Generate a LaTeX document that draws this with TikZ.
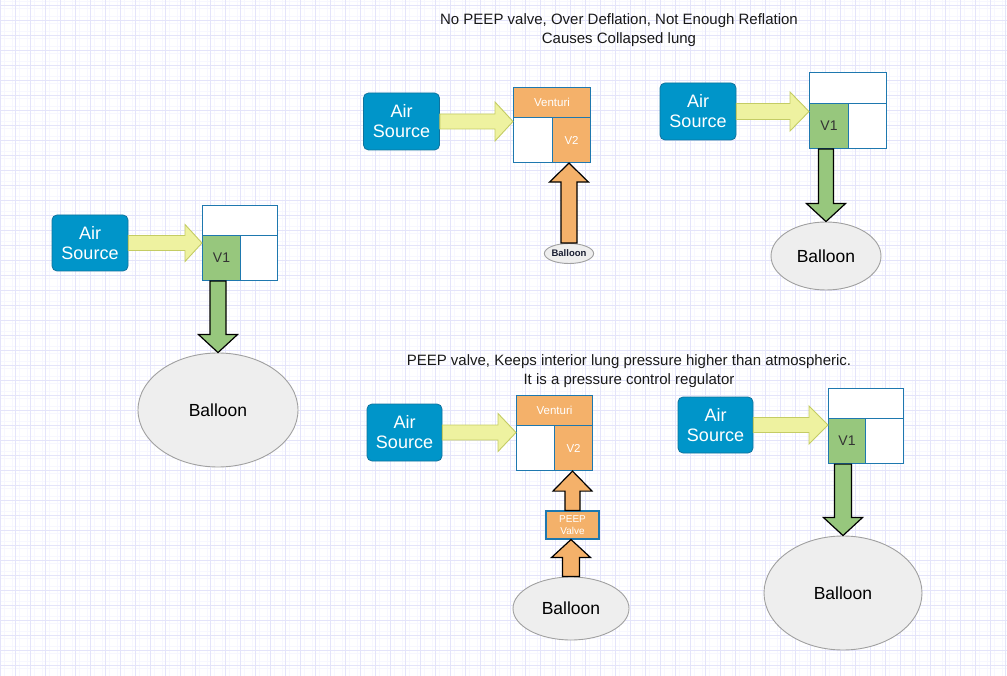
\documentclass[tikz,border=0pt]{standalone}
\usepackage{fontspec}
\setmainfont{Liberation Sans}
\usetikzlibrary{calc,shapes.geometric}
\definecolor{gridmaj}{RGB}{228,228,250}
\definecolor{gridmin}{RGB}{247,247,255}
\definecolor{airfill}{RGB}{0,149,201}
\definecolor{airline}{RGB}{16,115,158}
\definecolor{boxline}{RGB}{30,120,175}
\definecolor{vgreen}{RGB}{151,199,125}
\definecolor{vorange}{RGB}{244,177,106}
\definecolor{yfill}{RGB}{238,242,160}
\definecolor{yline}{RGB}{196,204,100}
\definecolor{balfill}{RGB}{238,238,238}
\definecolor{balline}{RGB}{160,160,160}
\definecolor{navy}{RGB}{25,30,50}
\newcommand\fs[2]{\fontsize{#1}{#2}\selectfont}
% horizontal block arrow: style, from node, to node, body half, head half, head length
\newcommand\hblk[6]{\draw[#1] let \p1=(#2.east), \p2=(#3.west) in
  (\x1,{\y1-#4pt}) -- ({\x2-#6pt},{\y1-#4pt}) -- ({\x2-#6pt},{\y1-#5pt}) -- (\x2,\y1)
  -- ({\x2-#6pt},{\y1+#5pt}) -- ({\x2-#6pt},{\y1+#4pt}) -- (\x1,{\y1+#4pt}) -- cycle;}
% downward block arrow (x of target)
\newcommand\dblk[6]{\draw[#1] let \p1=(#2.south), \p2=(#3.north) in
  ({\x2-#4pt},\y1) -- ({\x2-#4pt},{\y2+#6pt}) -- ({\x2-#5pt},{\y2+#6pt}) -- (\x2,\y2)
  -- ({\x2+#5pt},{\y2+#6pt}) -- ({\x2+#4pt},{\y2+#6pt}) -- ({\x2+#4pt},\y1) -- cycle;}
% upward block arrow (x of source)
\newcommand\ublk[6]{\draw[#1] let \p1=(#2.north), \p2=(#3.south) in
  ({\x1-#4pt},\y1) -- ({\x1-#4pt},{\y2-#6pt}) -- ({\x1-#5pt},{\y2-#6pt}) -- (\x1,\y2)
  -- ({\x1+#5pt},{\y2-#6pt}) -- ({\x1+#4pt},{\y2-#6pt}) -- ({\x1+#4pt},\y1) -- cycle;}
\begin{document}
\begin{tikzpicture}[x=1pt,y=-1pt,
  airsrc/.style={rectangle, rounded corners=5pt, fill=airfill, draw=airline, line width=0.8pt,
     text=white, align=center, inner sep=0pt, minimum width=76pt, minimum height=56pt,
     font=\fs{18}{20}},
  cellw/.style={rectangle, draw=boxline, line width=1.1pt, fill=white, anchor=north west, inner sep=0pt},
  cellg/.style={cellw, fill=vgreen, text=black!80, font=\fs{14}{15}},
  cello/.style={cellw, fill=vorange, text=white, font=\fs{11.5}{13}},
  balloon/.style={ellipse, fill=balfill, draw=balline, line width=0.9pt, inner sep=0pt,
     font=\fs{17.5}{20}},
  yarrow/.style={fill=yfill, draw=yline, line width=0.9pt, line join=miter},
  garrow/.style={fill=vgreen, draw=black, line width=1.2pt, line join=miter},
  oarrow/.style={fill=vorange, draw=black, line width=1.2pt, line join=miter},
  title/.style={align=center, font=\fs{15}{19}, text=black!90}
]
\useasboundingbox (0,0) rectangle (1007,676);
\fill[white] (0,0) rectangle (1007,676);
% grid
\foreach \i in {0,...,134} {\draw[gridmin, line width=0.6pt] ({4.45+7.5*\i},0) -- ({4.45+7.5*\i},676);}
\foreach \i in {0,...,90} {\draw[gridmin, line width=0.6pt] (0,{1.25+7.5*\i}) -- (1007,{1.25+7.5*\i});}
\foreach \i in {0,...,67} {\draw[gridmaj, line width=0.7pt] ({0.7+15*\i},0) -- ({0.7+15*\i},676);}
\foreach \i in {0,...,45} {\draw[gridmaj, line width=0.7pt] (0,{5+15*\i}) -- (1007,{5+15*\i});}

% titles
\node[title] (t1) at (619,30.5) {No PEEP valve, Over Deflation, Not Enough Reflation\\Causes Collapsed lung};
\node[title] (t2) at (629,371) {PEEP valve, Keeps interior lung pressure higher than atmospheric.\\It is a pressure control regulator};

% ---------- group 1 (left)
\node[airsrc] (as1) at (90,243) {Air\\Source};
\node[cellw, minimum width=75pt, minimum height=30pt] (top1) at (202,205) {};
\node[cellg, minimum width=38pt, minimum height=45pt] (v1a) at (202,235) {V1};
\node[cellw, minimum width=37pt, minimum height=45pt] (r1) at (240,235) {};
\node[balloon, minimum width=160pt, minimum height=114pt] (b1) at (218,410) {Balloon};
\hblk{yarrow}{as1}{v1a}{7.5}{18.5}{17}
\dblk{garrow}{v1a}{b1}{8}{19.5}{18}

% ---------- group 2 (top middle)
\node[airsrc, minimum height=57pt] (as2) at (401.5,121.5) {Air\\Source};
\node[cello, minimum width=77pt, minimum height=30pt] (ven2) at (513,87) {Venturi};
\node[cellw, minimum width=39pt, minimum height=45pt] (l2) at (513,117) {};
\node[cello, minimum width=38pt, minimum height=45pt] (v2a) at (552,117) {V2};
\node[balloon, minimum width=38pt, minimum height=20pt, font=\bfseries\fs{9.5}{10}, text=navy] (b2) at (569,253.5) {Balloon};
\hblk{yarrow}{as2}{l2}{7.5}{19.5}{18}
\ublk{oarrow}{b2}{v2a}{8}{19.5}{19}

% ---------- group 3 (top right)
\node[airsrc, minimum height=57pt] (as3) at (698,111.5) {Air\\Source};
\node[cellw, minimum width=77pt, minimum height=31pt] (top3) at (809,72) {};
\node[cellg, minimum width=39pt, minimum height=45pt] (v1b) at (809,103) {V1};
\node[cellw, minimum width=38pt, minimum height=45pt] (r3) at (848,103) {};
\node[balloon, minimum width=110pt, minimum height=68pt] (b3) at (826,256) {Balloon};
\hblk{yarrow}{as3}{v1b}{8}{19.5}{19}
\dblk{garrow}{v1b}{b3}{7.5}{19.5}{18}

% ---------- group 4 (bottom middle)
\node[airsrc, minimum width=75pt, minimum height=57pt] (as4) at (404.5,432.5) {Air\\Source};
\node[cello, minimum width=76pt, minimum height=30pt] (ven4) at (516,395) {Venturi};
\node[cellw, minimum width=38pt, minimum height=45pt] (l4) at (516,425) {};
\node[cello, minimum width=38pt, minimum height=45pt] (v2b) at (554,425) {V2};
\node[rectangle, draw=boxline, line width=1.1pt, fill=vorange, text=white, align=center,
   inner sep=0pt, minimum width=53pt, minimum height=28pt, font=\fs{10}{11.5}] (peep) at (572.5,525) {PEEP\\Valve};
\node[balloon, minimum width=116pt, minimum height=63pt] (b4) at (571,608.5) {Balloon};
\hblk{yarrow}{as4}{l4}{7.5}{19}{18}
\ublk{oarrow}{peep}{v2b}{7.5}{19.5}{20}
\ublk{oarrow}{b4}{peep}{8.5}{19.5}{18}

% ---------- group 5 (bottom right)
\node[airsrc, minimum width=75pt, minimum height=56pt] (as5) at (715.5,425) {Air\\Source};
\node[cellw, minimum width=75pt, minimum height=30pt] (top5) at (828,388) {};
\node[cellg, minimum width=37pt, minimum height=45pt] (v1c) at (828,418) {V1};
\node[cellw, minimum width=38pt, minimum height=45pt] (r5) at (865,418) {};
\node[balloon, minimum width=158pt, minimum height=114pt] (b5) at (843,593) {Balloon};
\hblk{yarrow}{as5}{v1c}{7.5}{19}{19}
\dblk{garrow}{v1c}{b5}{8.5}{19.5}{18}
\end{tikzpicture}
\end{document}
